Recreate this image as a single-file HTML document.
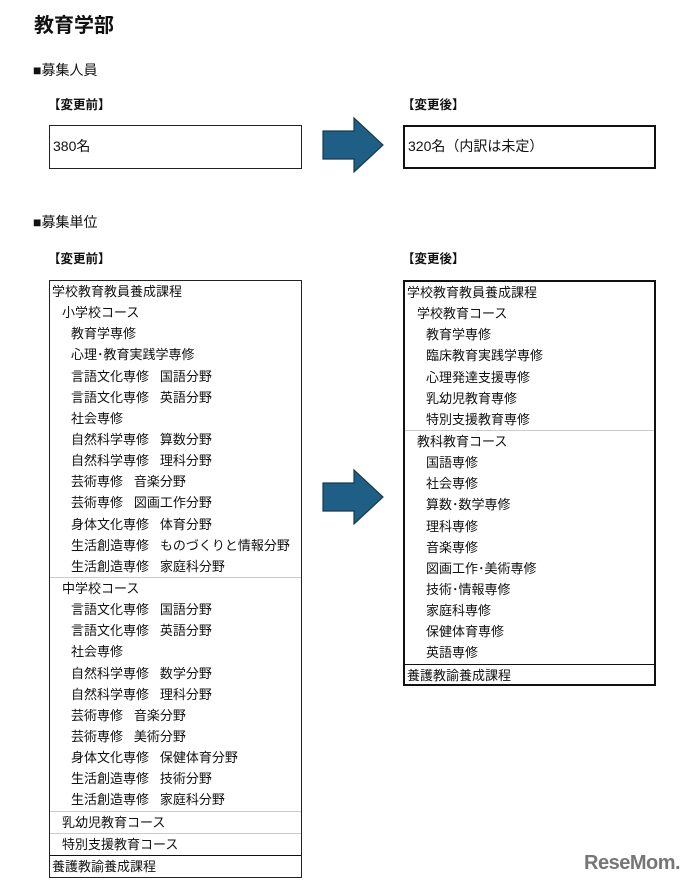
<!DOCTYPE html>
<html><head><meta charset="utf-8"><style>
body{margin:0;width:694px;height:894px;background:#fff;position:relative;font-family:"Liberation Sans","Noto Sans CJK JP",sans-serif;color:#111;overflow:hidden}
.a{position:absolute;white-space:nowrap}
.t{font-size:20px;font-weight:bold;left:34px;top:9px}
.h{font-size:14px;left:33px}
.l{font-size:12.5px;font-weight:bold}
.box{position:absolute;box-sizing:border-box;border:1px solid #222;font-size:13px}
.thick{border:2px solid #111}
.r{height:21.15px;line-height:21.15px;white-space:pre}
.i1{padding-left:10px}.i2{padding-left:19px}
.sep{border-top:1px solid #ccc}
.dk{border-top:1px solid #111}
</style></head><body>
<div class="a t">教育学部</div>
<div class="a h" style="top:60px">■募集人員</div>
<div class="a l" style="left:48px;top:94px">【変更前】</div>
<div class="a l" style="left:402px;top:94px">【変更後】</div>
<div class="box" style="left:49px;top:125px;width:253px;height:44px;padding:10px 0 0 3px;font-size:14px">380名</div>
<div class="box thick" style="left:403px;top:125px;width:253px;height:44px;padding:9px 0 0 3px;font-size:14px">320名（内訳は未定）</div>
<svg class="a" style="left:0;top:0" width="694" height="894">
<polygon points="323,131 354,131 354,118 383,145 354,172 354,159 323,159" fill="#1f5f85" stroke="#163a50" stroke-width="1.2"/>
<polygon points="323,483 354,483 354,470 383,497 354,524 354,511 323,511" fill="#1f5f85" stroke="#163a50" stroke-width="1.2"/>
</svg>
<div class="a h" style="top:212px">■募集単位</div>
<div class="a l" style="left:48px;top:248px">【変更前】</div>
<div class="a l" style="left:402px;top:248px">【変更後】</div>
<div class="box" style="left:49px;top:280px;width:253px;height:598px;padding-left:2px">
<div class="r">学校教育教員養成課程</div>
<div class="r i1">小学校コース</div>
<div class="r i2">教育学専修</div>
<div class="r i2">心理･教育実践学専修</div>
<div class="r i2">言語文化専修   国語分野</div>
<div class="r i2">言語文化専修   英語分野</div>
<div class="r i2">社会専修</div>
<div class="r i2">自然科学専修   算数分野</div>
<div class="r i2">自然科学専修   理科分野</div>
<div class="r i2">芸術専修   音楽分野</div>
<div class="r i2">芸術専修   図画工作分野</div>
<div class="r i2">身体文化専修   体育分野</div>
<div class="r i2">生活創造専修   ものづくりと情報分野</div>
<div class="r i2">生活創造専修   家庭科分野</div>
<div class="r i1 sep" style="margin-left:-2px;padding-left:12px">中学校コース</div>
<div class="r i2">言語文化専修   国語分野</div>
<div class="r i2">言語文化専修   英語分野</div>
<div class="r i2">社会専修</div>
<div class="r i2">自然科学専修   数学分野</div>
<div class="r i2">自然科学専修   理科分野</div>
<div class="r i2">芸術専修   音楽分野</div>
<div class="r i2">芸術専修   美術分野</div>
<div class="r i2">身体文化専修   保健体育分野</div>
<div class="r i2">生活創造専修   技術分野</div>
<div class="r i2">生活創造専修   家庭科分野</div>
<div class="r sep" style="margin-left:-2px;padding-left:12px">乳幼児教育コース</div>
<div class="r sep" style="margin-left:-2px;padding-left:12px">特別支援教育コース</div>
<div class="r dk" style="margin-left:-2px;padding-left:2px">養護教諭養成課程</div>
</div>
<div class="box thick" style="left:403px;top:280px;width:253px;height:406px;padding-left:2px">
<div class="r">学校教育教員養成課程</div>
<div class="r i1">学校教育コース</div>
<div class="r i2">教育学専修</div>
<div class="r i2">臨床教育実践学専修</div>
<div class="r i2">心理発達支援専修</div>
<div class="r i2">乳幼児教育専修</div>
<div class="r i2">特別支援教育専修</div>
<div class="r sep" style="margin-left:-2px;padding-left:12px">教科教育コース</div>
<div class="r i2">国語専修</div>
<div class="r i2">社会専修</div>
<div class="r i2">算数･数学専修</div>
<div class="r i2">理科専修</div>
<div class="r i2">音楽専修</div>
<div class="r i2">図画工作･美術専修</div>
<div class="r i2">技術･情報専修</div>
<div class="r i2">家庭科専修</div>
<div class="r i2">保健体育専修</div>
<div class="r i2">英語専修</div>
<div class="r dk" style="margin-left:-2px;padding-left:2px">養護教諭養成課程</div>
</div>
<div class="a" style="left:584px;top:852px;font-size:20px;font-weight:bold;color:#777;letter-spacing:-0.5px">ReseMom.</div>
</body></html>
